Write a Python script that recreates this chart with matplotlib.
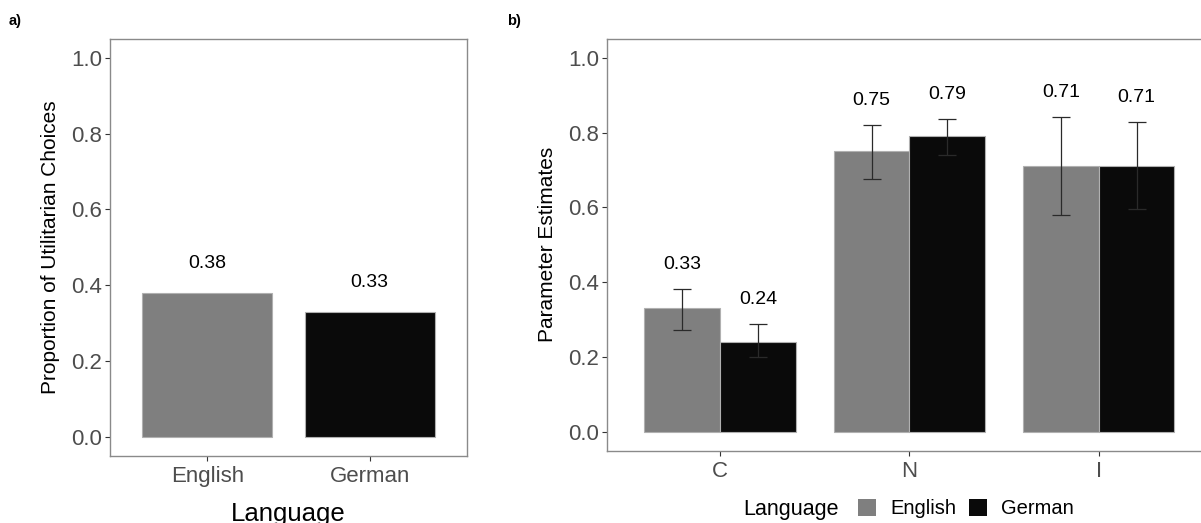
import matplotlib
matplotlib.use("Agg")
import matplotlib.pyplot as plt
from matplotlib.patches import Patch
import numpy as np

plt.rcParams['font.family'] = ['Liberation Sans', 'DejaVu Sans']

# ---- data ----
languages = ["English", "German"]
lang_colors = ["#7F7F7F", "#0A0A0A"]

# panel a
prop_utilitarian = [0.38, 0.33]

# panel b
params = ["C", "N", "I"]
est_english = [0.33, 0.75, 0.71]
est_german = [0.24, 0.79, 0.71]
lo_english = [0.273, 0.677, 0.579]
hi_english = [0.381, 0.819, 0.842]
lo_german = [0.201, 0.739, 0.597]
hi_german = [0.288, 0.837, 0.828]

W, H = 1201, 523
fig = plt.figure(figsize=(W / 100, H / 100), dpi=100)

tick_col = "#4D4D4D"
spine_col = "#8A8A8A"


def style_axes(ax):
    for s in ax.spines.values():
        s.set_color(spine_col)
        s.set_linewidth(1.0)
    ax.tick_params(axis='both', colors="#333333", labelcolor=tick_col,
                   labelsize=16, length=3.5, width=0.8, pad=2)
    ax.set_ylim(-0.05, 1.05)
    ax.set_yticks([0.0, 0.2, 0.4, 0.6, 0.8, 1.0])
    ax.set_yticklabels(["0.0", "0.2", "0.4", "0.6", "0.8", "1.0"])


# ---- panel a ----
axa = fig.add_axes([109.8 / W, 1 - 455.7 / H, 357.2 / W, 416.7 / H])
xa = np.arange(1, len(languages) + 1)
axa.bar(xa, prop_utilitarian, width=0.8, color=lang_colors,
        edgecolor="#B0B0B0", linewidth=0.8)
for x, v in zip(xa, prop_utilitarian):
    axa.text(x, v + 0.077, f"{v:.2f}", ha='center', va='center',
             fontsize=14, color='black')
axa.set_xlim(0.4, 2.6)
axa.set_xticks(xa)
axa.set_xticklabels(languages)
style_axes(axa)
axa.tick_params(axis='x', pad=4)
axa.set_ylabel("Proportion of Utilitarian Choices", fontsize=15, labelpad=8)
axa.set_xlabel("Language", fontsize=18.5, labelpad=11)

# ---- panel b ----
axb = fig.add_axes([606.5 / W, 1 - 450.7 / H, 605.8 / W, 411.7 / H])
xb = np.arange(1, len(params) + 1)
bw = 0.4
series = [
    (est_english, lo_english, hi_english, lang_colors[0], -bw / 2),
    (est_german, lo_german, hi_german, lang_colors[1], bw / 2),
]
for vals, lo, hi, col, off in series:
    xs = xb + off
    axb.bar(xs, vals, width=bw, color=col, edgecolor="#B0B0B0", linewidth=0.8)
    vals = np.array(vals)
    yerr = np.vstack([vals - np.array(lo), np.array(hi) - vals])
    axb.errorbar(xs, vals, yerr=yerr, fmt='none', ecolor="#2A2A2A",
                 elinewidth=0.9, capsize=6.8, capthick=0.9)
    for x, v, h in zip(xs, vals, hi):
        axb.text(x, h + 0.066, f"{v:.2f}", ha='center', va='center',
                 fontsize=14, color='black')
axb.set_xlim(0.4, 3.6)
axb.set_xticks(xb)
axb.set_xticklabels(params)
style_axes(axb)
axb.tick_params(axis='x', pad=4)
axb.set_ylabel("Parameter Estimates", fontsize=15, labelpad=8)

# legend (title placed to the left of the entries)
fig.text(743.7 / W, 1 - 510 / H, "Language", fontsize=15.5, va='center',
         ha='left', color='black')
handles = [Patch(facecolor=c, edgecolor='none') for c in lang_colors]
fig.legend(handles, languages, loc='center left',
           bbox_to_anchor=(858 / W, 1 - 508.5 / H), ncol=2, frameon=False,
           fontsize=14.5, handlelength=0.9, handleheight=0.9,
           handletextpad=0.7, columnspacing=0.62, borderpad=0,
           borderaxespad=0)

fig.text(9 / W, 1 - 21 / H, "a)", fontsize=10.5, fontweight='bold', va='center')
fig.text(507 / W, 1 - 21 / H, "b)", fontsize=10.5, fontweight='bold', va='center')

fig.savefig("out.png", dpi=100)
